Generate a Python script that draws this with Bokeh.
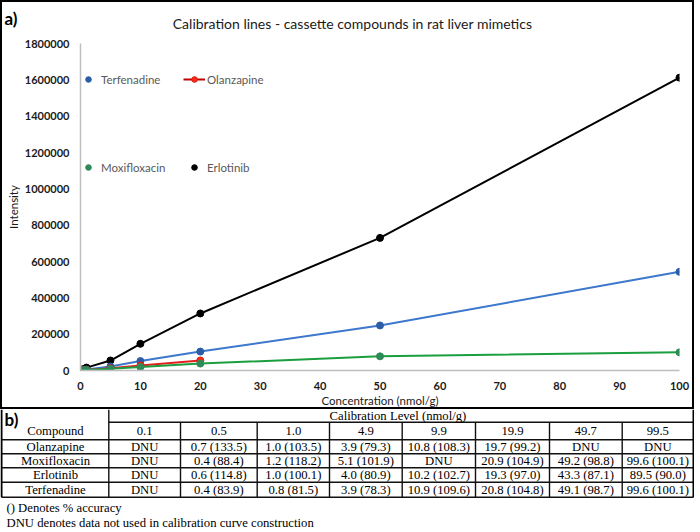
from bokeh.plotting import figure
from bokeh.models import (Range1d, FixedTicker, BasicTickFormatter, Legend, LegendItem)
from bokeh.layouts import column
from bokeh.embed import file_html
from bokeh.resources import INLINE
from bokeh.core.properties import value

# ---------------- chart data ----------------
conc = [0.1, 0.5, 1, 5, 10, 20, 50, 100]
terfenadine = [500, 2500, 5000, 22000, 52000, 104000, 248000, 543000]
olanzapine_conc = [0.1, 0.5, 1, 5, 10, 20]
olanzapine = [300, 1500, 3000, 13000, 28000, 55000]
moxifloxacin = [300, 1500, 2500, 9000, 19000, 38000, 78000, 100000]
erlotinib = [1500, 8000, 16000, 55000, 147000, 314000, 730000, 1612000]

y_ticks = [0, 200000, 400000, 600000, 800000, 1000000, 1200000, 1400000, 1600000, 1800000]
x_ticks = [0, 10, 20, 30, 40, 50, 60, 70, 80, 90, 100]

chart_title = "Calibration lines - cassette compounds in rat liver mimetics"

# ---------------- table data ----------------
levels = ["0.1", "0.5", "1.0", "4.9", "9.9", "19.9", "49.7", "99.5"]
compounds = ["Olanzapine", "Moxifloxacin", "Erlotinib", "Terfenadine"]
olanzapine_acc = ["DNU", "0.7 (133.5)", "1.0 (103.5)", "3.9 (79.3)", "10.8 (108.3)", "19.7 (99.2)", "DNU", "DNU"]
moxifloxacin_acc = ["DNU", "0.4 (88.4)", "1.2 (118.2)", "5.1 (101.9)", "DNU", "20.9 (104.9)", "49.2 (98.8)", "99.6 (100.1)"]
erlotinib_acc = ["DNU", "0.6 (114.8)", "1.0 (100.1)", "4.0 (80.9)", "10.2 (102.7)", "19.3 (97.0)", "43.3 (87.1)", "89.5 (90.0)"]
terfenadine_acc = ["DNU", "0.4 (83.9)", "0.8 (81.5)", "3.9 (78.3)", "10.9 (109.6)", "20.8 (104.8)", "49.1 (98.7)", "99.6 (100.1)"]
notes = ["() Denotes % accuracy", "DNU denotes data not used in calibration  curve construction"]

FONT = "Lato"

# ---------------- top strip: panel label + title ----------------
pa = figure(width=694, height=36, x_range=Range1d(2, 692), y_range=Range1d(36, 2),
            output_backend="svg", toolbar_location=None, x_axis_type=None, y_axis_type=None,
            min_border=0, title_location=None)
pa.styles = {"border": "2px solid black", "border-bottom": "none"}
pa.frame_align = False
pa.outline_line_color = None
pa.xgrid.visible = False
pa.ygrid.visible = False
pa.text([350], [21.5], [chart_title], text_font=value(FONT), text_font_size="14px",
        text_align="center", text_baseline="middle", text_color="#1a1a1a")
pa.text([4], [17], ["a)"], text_font=value(FONT), text_font_style="bold", text_font_size="17px",
        text_align="left", text_baseline="middle", text_color="black")

# ---------------- panel a: chart ----------------
p1 = figure(width=694, height=373, x_range=Range1d(0, 100), y_range=Range1d(0, 1800000),
            output_backend="svg", toolbar_location=None, title_location=None,
            min_border_left=78, min_border_right=17, min_border_top=7, min_border_bottom=36)
p1.styles = {"border": "2px solid black", "border-top": "none"}
p1.frame_align = False
p1.outline_line_color = None
p1.xgrid.visible = False
p1.ygrid.visible = False

for ax in (p1.xaxis[0], p1.yaxis[0]):
    ax.axis_line_color = "#BFBFBF"
    ax.axis_line_width = 1.5
    ax.major_tick_line_color = None
    ax.minor_tick_line_color = None
    ax.major_tick_out = 0
    ax.major_tick_in = 0
    ax.minor_tick_out = 0
    ax.minor_tick_in = 0
    ax.major_label_text_font = FONT
    ax.major_label_text_font_style = "bold"
    ax.major_label_text_font_size = "11px"
    ax.major_label_text_color = "#1a1a1a"
    ax.axis_label_text_font = FONT
    ax.axis_label_text_font_size = "11.5px"
    ax.axis_label_text_font_style = "normal"
    ax.axis_label_text_color = "#1a1a1a"

p1.xaxis.ticker = FixedTicker(ticks=x_ticks)
p1.yaxis.ticker = FixedTicker(ticks=y_ticks)
p1.yaxis.formatter = BasicTickFormatter(use_scientific=False)
p1.xaxis.axis_label = "Concentration (nmol/g)"
p1.yaxis.axis_label = "Intensity"
p1.xaxis.major_label_standoff = 11
p1.xaxis.axis_label_standoff = 1
p1.yaxis.major_label_standoff = 11
p1.yaxis.axis_label_standoff = 2

# series
erl_line = p1.line(conc, erlotinib, line_color="black", line_width=2)
erl_pts = p1.scatter(conc, erlotinib, size=7, fill_color="black", line_color="black")
terf_line = p1.line(conc, terfenadine, line_color="#3d78cc", line_width=2)
terf_pts = p1.scatter(conc, terfenadine, size=7, fill_color="#2c5ea8", line_color="#2c5ea8")
olz_line = p1.line(olanzapine_conc, olanzapine, line_color="#e3211c", line_width=2)
olz_pts = p1.scatter(olanzapine_conc, olanzapine, size=7, fill_color="#ff2a1a", line_color="#d01c10")
olz_leg_line = p1.line(olanzapine_conc, olanzapine, line_color="#c00000", line_width=2, visible=False)
moxi_line = p1.line(conc, moxifloxacin, line_color="#1a9e3e", line_width=2)
moxi_pts = p1.scatter(conc, moxifloxacin, size=7, fill_color="#2e8b57", line_color="#2e8b57")


def add_legend(label, renderers, x, y, gw, standoff):
    lg = Legend(items=[LegendItem(label=label, renderers=renderers)],
                location=(x, y), orientation="horizontal", padding=0, margin=0, spacing=0,
                glyph_width=gw, glyph_height=14, label_height=14, label_standoff=standoff,
                border_line_color=None, background_fill_alpha=0,
                label_text_font=FONT, label_text_font_size="11.5px", label_text_color="#595959")
    p1.add_layout(lg)


add_legend("Terfenadine", [terf_pts], 0, 284, 16, 5)
add_legend("Olanzapine", [olz_leg_line, olz_pts], 103, 284, 22, 2)
add_legend("Moxifloxacin", [moxi_pts], 0, 196, 16, 5)
add_legend("Erlotinib", [erl_pts], 106, 196, 16, 5)

# ---------------- panel b: table ----------------
p2 = figure(width=694, height=123, x_range=Range1d(0, 694), y_range=Range1d(532, 409),
            output_backend="svg", toolbar_location=None, x_axis_type=None, y_axis_type=None,
            min_border=0, title_location=None)
p2.frame_align = False
p2.outline_line_color = None
p2.xgrid.visible = False
p2.ygrid.visible = False

col_edges = [108.3, 180, 256.7, 329, 401.7, 475, 549, 621.7, 693]
row_edges = [409, 421.7, 439.3, 453.3, 467.3, 481.7, 496.7]

hx0, hy0, hx1, hy1 = [col_edges[0]], [row_edges[1]], [col_edges[-1]], [row_edges[1]]
for r in row_edges[2:]:
    hx0.append(1); hx1.append(col_edges[-1]); hy0.append(r); hy1.append(r)
p2.segment(hx0, hy0, hx1, hy1, line_color="#111111", line_width=1.4)
vx, vy0, vy1 = [col_edges[0]], [row_edges[0]], [row_edges[-1]]
for c in col_edges[1:-1]:
    vx.append(c); vy0.append(row_edges[1]); vy1.append(row_edges[-1])
p2.segment(vx, vy0, vx, vy1, line_color="#111111", line_width=1.4)
p2.segment([1, col_edges[-1]], [row_edges[0], row_edges[0]], [1, col_edges[-1]],
           [row_edges[-1], row_edges[-1]], line_color="black", line_width=2)

TFONT = value("Liberation Serif")
centers = [(col_edges[i] + col_edges[i + 1]) / 2 for i in range(len(col_edges) - 1)]
row_mid = [(row_edges[i] + row_edges[i + 1]) / 2 for i in range(len(row_edges) - 1)]
tkw = dict(text_font=TFONT, text_font_size="12.7px", text_baseline="middle", text_color="black")

p2.text([(col_edges[0] + col_edges[-1]) / 2], [row_mid[0]], ["Calibration  Level  (nmol/g)"],
        text_align="center", **tkw)
p2.text(centers, [row_mid[1]] * len(levels), levels, text_align="center", **tkw)
p2.text([55], [row_mid[1]], ["Compound"], text_align="center", **tkw)
p2.text([55] * 4, row_mid[2:], compounds, text_align="center", **tkw)
for acc, ym in zip([olanzapine_acc, moxifloxacin_acc, erlotinib_acc, terfenadine_acc], row_mid[2:]):
    p2.text(centers, [ym] * len(acc), acc, text_align="center", **tkw)
p2.text([6, 6], [507, 522], notes, text_align="left", **tkw)
p2.text([4], [418.5], ["b)"], text_font=value(FONT), text_font_style="bold", text_font_size="17px",
        text_align="left", text_baseline="middle", text_color="black")

layout = column(pa, p1, p2, spacing=0)
open("out.html", "w").write(file_html(layout, INLINE))
